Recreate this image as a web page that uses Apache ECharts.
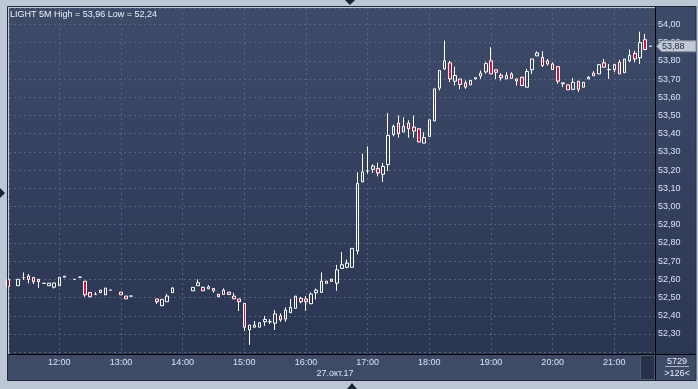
<!DOCTYPE html>
<html><head><meta charset="utf-8">
<script src="https://cdn.jsdelivr.net/npm/echarts@6/dist/echarts.min.js"></script>
<style>html,body{margin:0;padding:0;background:#bec7d5;overflow:hidden}#c{width:698px;height:389px}</style>
</head><body><div id="c"></div>
<script>
// ---- data (5-minute candles, 27.10.2017) ----
const times  = ['11:10','11:20','11:25','11:30','11:35','11:40','11:45','11:50','11:55','12:00','12:05','12:15','12:20','12:25','12:30','12:35','12:40','12:45','12:50','13:00','13:05','13:10','13:35','13:40','13:45','13:50','14:10','14:15','14:20','14:25','14:30','14:35','14:40','14:45','14:50','14:55','15:00','15:05','15:10','15:15','15:20','15:25','15:30','15:35','15:40','15:45','15:50','15:55','16:00','16:05','16:10','16:15','16:20','16:25','16:30','16:35','16:40','16:45','16:50','16:55','17:00','17:05','17:10','17:15','17:20','17:25','17:30','17:35','17:40','17:45','17:50','17:55','18:00','18:05','18:10','18:15','18:20','18:25','18:30','18:35','18:40','18:45','18:50','18:55','19:00','19:05','19:10','19:15','19:20','19:25','19:30','19:35','19:40','19:45','19:50','19:55','20:00','20:05','20:10','20:15','20:20','20:25','20:30','20:35','20:40','20:45','20:50','20:55','21:00','21:05','21:10','21:15','21:20','21:25','21:30','21:35'];
const opens  = [52.60,52.565,52.61,52.618,52.61,52.60,52.578,52.565,52.557,52.565,52.612,52.60,52.612,52.59,52.528,52.517,52.541,52.515,52.541,52.53,52.508,52.508,52.492,52.455,52.477,52.527,52.537,52.565,52.556,52.548,52.55,52.519,52.517,52.53,52.508,52.492,52.468,52.322,52.337,52.337,52.367,52.367,52.359,52.399,52.382,52.417,52.441,52.496,52.492,52.466,52.526,52.528,52.578,52.601,52.579,52.66,52.666,52.666,52.756,53.135,53.195,53.204,53.208,53.177,53.23,53.396,53.458,53.409,53.458,53.436,53.427,53.348,53.385,53.47,53.65,53.756,53.789,53.688,53.70,53.679,53.668,53.70,53.716,53.739,53.80,53.751,53.721,53.701,53.728,53.701,53.71,53.655,53.751,53.827,53.819,53.80,53.783,53.768,53.674,53.668,53.643,53.688,53.655,53.70,53.732,53.728,53.789,53.752,53.752,53.792,53.735,53.80,53.841,53.817,53.916,53.88];
const closes = [52.56,52.60,52.61,52.60,52.587,52.587,52.578,52.579,52.58,52.611,52.617,52.60,52.612,52.515,52.504,52.517,52.527,52.552,52.541,52.515,52.493,52.508,52.477,52.49,52.508,52.552,52.556,52.581,52.537,52.559,52.537,52.504,52.541,52.517,52.493,52.477,52.337,52.349,52.349,52.362,52.38,52.367,52.41,52.377,52.431,52.446,52.508,52.477,52.477,52.519,52.541,52.59,52.59,52.589,52.652,52.68,52.689,52.77,53.126,53.189,53.195,53.222,53.184,53.22,53.39,53.44,53.40,53.44,53.427,53.414,53.354,53.378,53.476,53.646,53.747,53.80,53.70,53.719,53.67,53.655,53.692,53.707,53.732,53.785,53.728,53.737,53.707,53.719,53.704,53.689,53.664,53.741,53.81,53.843,53.774,53.783,53.752,53.688,53.679,53.641,53.682,53.643,53.682,53.71,53.718,53.779,53.765,53.752,53.779,53.728,53.81,53.83,53.81,53.90,53.862,53.88];
const lows   = [52.56,52.565,52.596,52.578,52.574,52.552,52.578,52.565,52.55,52.565,52.612,52.60,52.612,52.504,52.504,52.517,52.527,52.515,52.541,52.515,52.493,52.508,52.464,52.455,52.477,52.527,52.537,52.565,52.537,52.548,52.526,52.504,52.517,52.517,52.493,52.426,52.316,52.24,52.337,52.337,52.344,52.355,52.322,52.367,52.367,52.417,52.441,52.468,52.428,52.466,52.49,52.528,52.578,52.589,52.537,52.66,52.66,52.666,52.737,53.135,53.18,53.184,53.166,53.135,53.195,53.385,53.378,53.409,53.378,53.378,53.354,53.348,53.385,53.47,53.637,53.75,53.683,53.664,53.644,53.646,53.668,53.70,53.70,53.73,53.728,53.70,53.691,53.701,53.704,53.664,53.664,53.655,53.728,53.827,53.765,53.774,53.752,53.674,53.655,53.641,53.643,53.629,53.655,53.70,53.718,53.728,53.765,53.70,53.737,53.728,53.735,53.792,53.792,53.783,53.862,53.88];
const highs  = [52.60,52.60,52.638,52.629,52.61,52.60,52.578,52.579,52.58,52.611,52.617,52.60,52.612,52.59,52.528,52.53,52.541,52.552,52.541,52.53,52.508,52.508,52.492,52.49,52.52,52.557,52.556,52.60,52.56,52.568,52.55,52.519,52.55,52.53,52.526,52.492,52.468,52.349,52.371,52.362,52.399,52.382,52.431,52.413,52.446,52.492,52.508,52.504,52.508,52.528,52.55,52.638,52.59,52.601,52.679,52.749,52.709,52.77,53.188,53.29,53.33,53.232,53.24,53.24,53.513,53.45,53.50,53.49,53.473,53.50,53.427,53.408,53.476,53.646,53.747,53.911,53.80,53.768,53.70,53.692,53.692,53.707,53.747,53.794,53.875,53.751,53.732,53.737,53.737,53.701,53.71,53.756,53.81,53.852,53.852,53.81,53.792,53.768,53.679,53.668,53.706,53.688,53.682,53.716,53.743,53.779,53.81,53.783,53.783,53.805,53.81,53.862,53.855,53.96,53.948,53.88];
const tradeDate = [2017, 9, 27];
const dateLabel = '27.окт.17';
const tickerName = 'LIGHT 5M';
const volumeText = '5729';
const barsText = '>126<';
const viewStart = '11:11:04';
const viewEnd = '21:39:36';
const priceMin = 52.19, priceMax = 54.09;

// ---- build ----
const pad = n => (n < 10 ? '0' : '') + n;
function ts(s) {
  const p = s.split(':').map(Number);
  return Date.UTC(tradeDate[0], tradeDate[1], tradeDate[2], p[0], p[1], p[2] || 0);
}
const data = times.map((t, i) => [ts(t), opens[i], closes[i], lows[i], highs[i]]);
const fmtPrice = v => v.toFixed(2).replace('.', ',');
const hi = Math.max(...highs), lo = Math.min(...lows);

const FONT = '"Liberation Sans", Arial, sans-serif';
const LBL = '#dbe3f2';
const GRIDC = '#566381';
const G = echarts.graphic;
const plotGrad = new G.LinearGradient(0, 0, 0, 1, [{offset: 0, color: '#3e4b68'}, {offset: 1, color: '#2a3552'}]);
const panelGrad = new G.LinearGradient(0, 0, 0, 1, [{offset: 0, color: '#3e4b68'}, {offset: 1, color: '#2c3754'}]);

const chart = echarts.init(document.getElementById('c'), null, {renderer: 'canvas'});
const option = {
  animation: false,
  useUTC: true,
  backgroundColor: '#bec7d5',
  title: {
    text: tickerName + ' High = ' + fmtPrice(hi) + ' Low = ' + fmtPrice(lo),
    left: 10, top: 10, padding: 0,
    textStyle: {color: '#eef2fa', fontSize: 9, fontWeight: 'normal', fontFamily: FONT}
  },
  grid: {left: 9, top: 8, right: 43, bottom: 35, show: true, backgroundColor: plotGrad, borderWidth: 0, containLabel: false},
  xAxis: {
    type: 'time', min: ts(viewStart), max: ts(viewEnd),
    minInterval: 3600000, maxInterval: 3600000,
    axisLine: {show: true, lineStyle: {color: '#000000', width: 1}},
    axisTick: {show: false},
    axisLabel: {
      color: LBL, fontSize: 9, fontFamily: FONT, margin: 4,
      showMinLabel: false, showMaxLabel: false,
      formatter: v => { const d = new Date(v); return pad(d.getUTCHours()) + ':' + pad(d.getUTCMinutes()); }
    },
    splitLine: {show: true, lineStyle: {color: GRIDC, type: [2, 3], width: 1}}
  },
  yAxis: {
    type: 'value', position: 'right', min: priceMin, max: priceMax, splitNumber: 19,
    axisLine: {show: true, lineStyle: {color: '#000000', width: 1}},
    axisTick: {show: false},
    axisLabel: {
      color: LBL, fontSize: 9, fontFamily: FONT, margin: 3,
      showMinLabel: false, showMaxLabel: false,
      formatter: v => (v < 52.25 || v > 54.05) ? '' : fmtPrice(v)
    },
    splitLine: {show: true, lineStyle: {color: GRIDC, type: [2, 3], width: 1}}
  },
  series: [{
    type: 'candlestick',
    data: data,
    encode: {x: 0, y: [1, 2, 3, 4]},
    barWidth: 3,
    clip: true,
    itemStyle: {color: 'rgba(0,0,0,0)', color0: '#d8103a', borderColor: '#ffffff', borderColor0: '#ffffff', borderColorDoji: '#ffffff', borderWidth: 1},
    emphasis: {disabled: true}
  }]
};
chart.setOption(option);

const lastClose = closes[closes.length - 1];
const yTag = chart.convertToPixel({yAxisIndex: 0}, lastClose);
const txt = (text, x, y, fill, align, z) => ({
  type: 'text', z: z || 50,
  style: {text, x, y, fill, font: '9px ' + FONT, textAlign: align || 'center', textVerticalAlign: 'middle', align: align || 'center', verticalAlign: 'middle'}
});
chart.setOption({
  graphic: [
    {type: 'rect', z: -10, shape: {x: 655, y: 7, width: 43, height: 347}, style: {fill: panelGrad}},
    {type: 'rect', z: -10, shape: {x: 8, y: 354, width: 690, height: 27}, style: {fill: '#3e4b67'}},
    {type: 'rect', z: 40, shape: {x: 640.5, y: 355.5, width: 14, height: 24}, style: {fill: '#263049', stroke: '#4e5974', lineWidth: 1}},
    {type: 'line', z: 45, shape: {x1: 655.5, y1: 7, x2: 655.5, y2: 381}, style: {stroke: '#000000', lineWidth: 1}},
    {type: 'line', z: 45, shape: {x1: 655, y1: 354.5, x2: 696, y2: 354.5}, style: {stroke: '#000000', lineWidth: 1}},
    {type: 'rect', z: 44, shape: {x: 696, y: 0, width: 2, height: 389}, style: {fill: '#bec7d5'}},
    {type: 'rect', z: 45, shape: {x: 7.5, y: 6.5, width: 688.5, height: 374}, style: {fill: null, stroke: '#222a3a', lineWidth: 1}},
    {type: 'polygon', z: 45, shape: {points: [[345, 0], [355, 0], [350, 5]]}, style: {fill: '#1b2335'}},
    {type: 'polygon', z: 45, shape: {points: [[0, 188], [0, 198], [5, 193]]}, style: {fill: '#1b2335'}},
    {type: 'polygon', z: 45, shape: {points: [[347, 389], [357, 389], [352, 383]]}, style: {fill: '#1b2335'}},
    txt(dateLabel, 335, 373.5, LBL),
    txt(volumeText, 677, 361.5, '#e8eef8'),
    {type: 'line', z: 50, shape: {x1: 665, y1: 366.5, x2: 689, y2: 366.5}, style: {stroke: '#aab4c6', lineWidth: 1}},
    txt(barsText, 677, 374, '#e8eef8'),
    {type: 'polygon', z: 60, shape: {points: [[656.5, yTag], [661.5, yTag - 5.5], [696, yTag - 5.5], [696, yTag + 5.5], [661.5, yTag + 5.5]]}, style: {fill: '#c3c9d3', stroke: '#7c879a', lineWidth: 1}},
    txt(fmtPrice(lastClose), 662, yTag + 0.5, '#1c2946', 'left', 70)
  ]
});
</script>
</body></html>
